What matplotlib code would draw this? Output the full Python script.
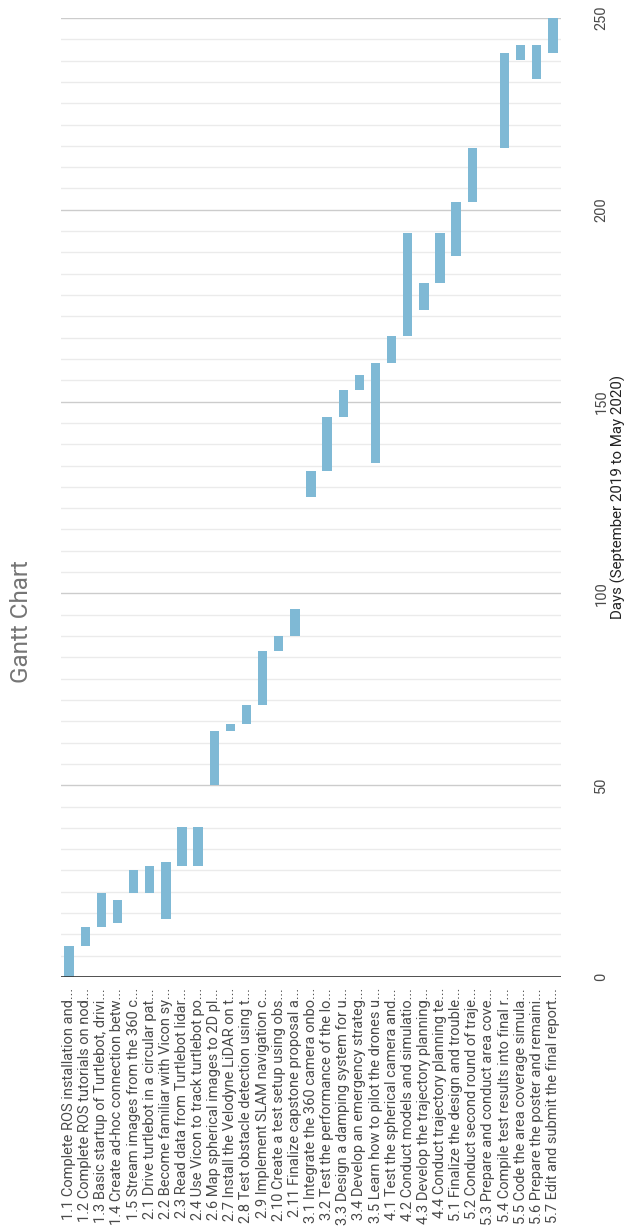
import numpy as np
import matplotlib.pyplot as plt

# task schedule, in days from the start of September 2019
tasks = [
    "1.1 Complete ROS installation and...",
    "1.2 Complete ROS tutorials on nod...",
    "1.3 Basic startup of Turtlebot, drivi...",
    "1.4 Create ad-hoc connection betw...",
    "1.5 Stream images from the 360 c...",
    "2.1 Drive turtlebot in a circular pat...",
    "2.2 Become familiar with Vicon sy...",
    "2.3 Read data from Turtlebot lidar...",
    "2.4 Use Vicon to track turtlebot po...",
    "2.6 Map spherical images to 2D pl...",
    "2.7 Install the Velodyne LiDAR on t...",
    "2.8 Test obstacle detection using t...",
    "2.9 Implement SLAM navigation c...",
    "2.10 Create a test setup using obs...",
    "2.11 Finalize capstone proposal a...",
    "3.1 Integrate the 360 camera onbo...",
    "3.2 Test the performance of the lo...",
    "3.3 Design a damping system for u...",
    "3.4 Develop an emergency strateg...",
    "3.5 Learn how to pilot the drones u...",
    "4.1 Test the spherical camera and...",
    "4.2 Conduct models and simulatio...",
    "4.3 Develop the trajectory planning...",
    "4.4 Conduct trajectory planning te...",
    "5.1 Finalize the design and trouble...",
    "5.2 Conduct second round of traje...",
    "5.3 Prepare and conduct area cove...",
    "5.4 Compile test results into final r...",
    "5.5 Code the area coverage simula...",
    "5.6 Prepare the poster and remaini...",
    "5.7 Edit and submit the final report...",
]
start = [0, 8, 13, 14, 22, 22, 15, 29, 29, 50, 64, 66, 71, 85, 89,
         125, 132, 146, 153, 134, 160, 167, 174, 181,
         188, 202, 216, 216, 239, 234, 241]
finish = [8, 13, 22, 20, 28, 29, 30, 39, 39, 64, 66, 71, 85, 89, 96,
          132, 146, 153, 157, 160, 167, 194, 181, 194,
          202, 216, 216, 241, 243, 243, 250]

plt.rcParams['font.family'] = ['Roboto', 'DejaVu Sans']

fig = plt.figure(figsize=(6.24, 12.27), dpi=100)
ax = fig.add_axes([61/624, 1 - 977/1227, 500/624, 959/1227])

x = np.arange(len(tasks))
dur = np.array(finish) - np.array(start)
ax.bar(x, dur, bottom=start, width=0.58, color='#7fb9d5', edgecolor='none', zorder=3)

ax.set_xlim(-0.5, len(tasks) - 0.5)
ax.set_ylim(0, 250)

# grid: light lines every 50/9 days, darker at every 50
ax.set_yticks(np.arange(0, 251, 50))
ax.set_yticks(np.linspace(0, 250, 46), minor=True)
ax.grid(axis='y', which='minor', color='#ebebeb', lw=1, zorder=0)
ax.grid(axis='y', which='major', color='#cccccc', lw=1, zorder=1)
ax.axhline(0, color='#333333', lw=1.2, zorder=4)
for s in ax.spines.values():
    s.set_visible(False)

ax.set_xticks(x)
ax.set_xticklabels(tasks, rotation=90, fontsize=10.5, color='#4a4a4a')
ax.tick_params(axis='x', length=0, pad=8)

ax.yaxis.tick_right()
ax.tick_params(axis='y', which='both', length=0, pad=24, labelsize=10.5,
               labelcolor='#4a4a4a')
for t in ax.get_yticklabels():
    t.set_rotation(90)
    t.set_va('center')

fig.text(618/624, 1 - 497/1227, 'Days (September 2019 to May 2020)',
         rotation=90, ha='center', va='center', fontsize=10.8, color='#222222')
fig.text(22/624, 1 - 622/1227, 'Gantt Chart', rotation=90,
         ha='center', va='center', fontsize=17.5, color='#757575')

fig.savefig('out.png', dpi=100)
